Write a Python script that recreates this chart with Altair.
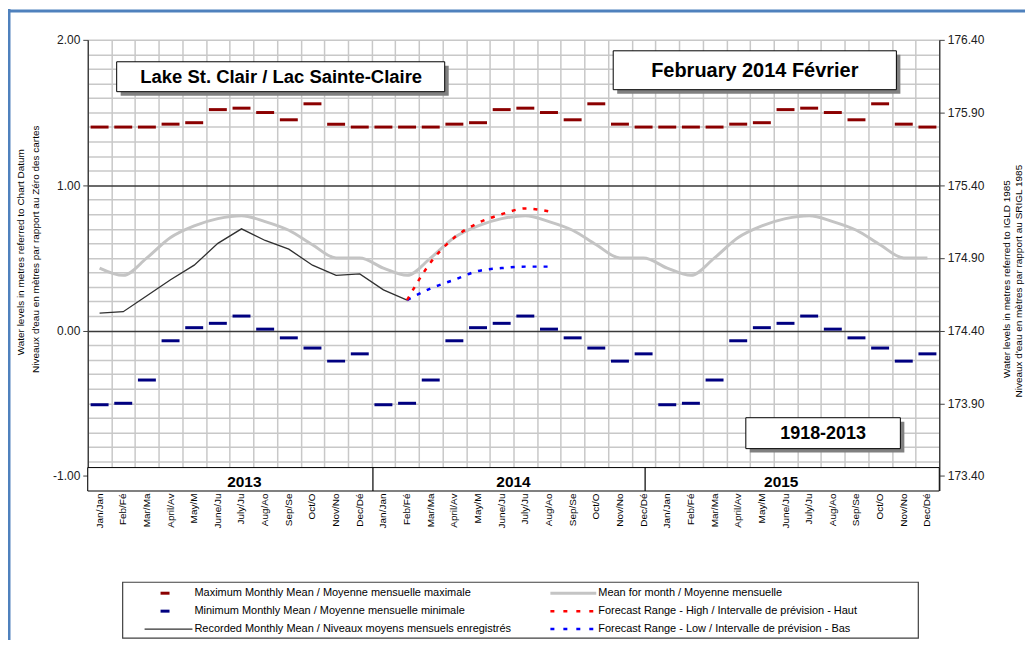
import altair as alt
import pandas as pd

# ---------------- data ----------------
years = [2013, 2014, 2015]
month_labels = ["Jan/Jan", "Feb/Fé", "Mar/Ma", "April/Av", "May/M", "June/Ju",
                "July/Ju", "Aug/Ao", "Sep/Se", "Oct/O", "Nov/No", "Dec/Dé"]
max_monthly = [1.40, 1.40, 1.40, 1.42, 1.43, 1.52, 1.53, 1.50, 1.45, 1.56, 1.42, 1.40]
min_monthly = [-0.51, -0.50, -0.34, -0.07, 0.02, 0.05, 0.10, 0.01, -0.05, -0.12, -0.21, -0.16]
mean_monthly = [0.43, 0.38, 0.50, 0.64, 0.72, 0.77, 0.79, 0.75, 0.69, 0.59, 0.50, 0.50]
# recorded monthly mean, Jan 2013 .. Feb 2014
recorded = [0.12, 0.13, 0.24, 0.35, 0.45, 0.60, 0.70, 0.62, 0.56, 0.45, 0.38, 0.39, 0.28, 0.21]
# forecast, Feb 2014 .. Aug 2014
forecast_start = 13
forecast_high = [0.21, 0.47, 0.64, 0.74, 0.80, 0.84, 0.82]
forecast_low = [0.21, 0.29, 0.35, 0.41, 0.43, 0.44, 0.44]
igld_offset = 174.40
right_ticks = [173.40, 173.90, 174.40, 174.90, 175.40, 175.90, 176.40]

title_lake = "Lake St. Clair / Lac Sainte-Claire"
title_month = "February 2014 Février"
period_label = "1918-2013"
left_title = ["Water levels in metres referred to Chart Datum",
              "Niveaux d'eau en mètres par rapport au Zéro des cartes"]
right_title = ["Water levels in metres referred to IGLD 1985",
               "Niveaux d'eau en mètres par rapport au SRIGL 1985"]
legend_left = ["Maximum Monthly Mean / Moyenne mensuelle maximale",
               "Minimum Monthly Mean / Moyenne mensuelle minimale",
               "Recorded Monthly Mean / Niveaux moyens mensuels enregistrés"]
legend_right = ["Mean for month / Moyenne mensuelle",
                "Forecast Range - High / Intervalle de prévision - Haut",
                "Forecast Range - Low / Intervalle de prévision - Bas"]

# ---------------- tables ----------------
n_months = len(years) * 12
clim = pd.DataFrame({
    "x": [i + 0.5 for i in range(n_months)],
    "label": month_labels * len(years),
    "max": max_monthly * len(years),
    "min": min_monthly * len(years),
    "mean": mean_monthly * len(years),
})
rec = pd.DataFrame({"x": [i + 0.5 for i in range(len(recorded))], "v": recorded})
fc = pd.DataFrame({"x": [forecast_start + i + 0.5 for i in range(len(forecast_high))],
                   "high": forecast_high, "low": forecast_low})
right_df = pd.DataFrame({"x": [0.0] * len(right_ticks), "v": right_ticks})

# ---------------- layout ----------------
FONT = "Liberation Sans"
PAD_L, PAD_T, PAD_R, PAD_B = 80, 31, 86, 149
W, H = 854, 452
Y_MIN, Y_MAX = -1.1, 2.0


def vx(px):
    return px - 8 - PAD_L


def vy(py):
    return py - 8 - PAD_T


DUMMY = alt.Data(values=[{"a": 1}])

xs = alt.Scale(domain=[0, n_months], nice=False, zero=False)
x_axis = alt.Axis(values=list(range(1, n_months)), grid=True, gridColor="#c8c8c8",
                  gridWidth=1.5, labels=False, ticks=False, domain=False, title=None)


def X(field):
    return alt.X(field, type="quantitative", scale=xs, axis=x_axis)


ys = alt.Scale(domain=[Y_MIN, Y_MAX], nice=False, zero=False)
grid_vals = [round(-1.0 + 0.1 * k, 1) for k in range(31)]
is_major = "abs(datum.value - round(datum.value)) < 0.001"
y_axis = alt.Axis(
    values=grid_vals, grid=True,
    gridColor={"condition": {"test": "abs(datum.value) < 0.001 || abs(datum.value - 1) < 0.001",
                             "value": "#3a3a3a"}, "value": "#c8c8c8"},
    gridWidth=1.5,
    labelExpr=f"{is_major} ? (datum.value < 0 ? '-' : '') + format(abs(datum.value), '.2f') : ''",
    tickOpacity={"condition": {"test": is_major, "value": 1}, "value": 0},
    tickSize=5, tickColor="#404040", domainColor="#404040", domainWidth=1.5,
    labelFont=FONT, labelFontSize=12, labelColor="#202020", labelPadding=3,
    labelOverlap=False, title=None)


def Y(field):
    return alt.Y(field, type="quantitative", scale=ys, axis=y_axis)


mean_line = alt.Chart(clim).mark_line(color="#c4c4c4", strokeWidth=3, interpolate="monotone").encode(
    x=X("x"), y=Y("mean"))
max_ticks = alt.Chart(clim).mark_tick(orient="horizontal", color="#8b0000", size=18, thickness=3,
                                      opacity=1).encode(x=X("x"), y=Y("max"))
min_ticks = alt.Chart(clim).mark_tick(orient="horizontal", color="#000080", size=18, thickness=3,
                                      opacity=1).encode(x=X("x"), y=Y("min"))
rec_line = alt.Chart(rec).mark_line(color="#303030", strokeWidth=1.3).encode(x=X("x"), y=Y("v"))
low_line = alt.Chart(fc).mark_line(color="#0000ff", strokeWidth=2.5, strokeDash=[4, 7],
                                   interpolate="monotone").encode(x=X("x"), y=Y("low"))
high_line = alt.Chart(fc).mark_line(color="#ff0000", strokeWidth=2.5, strokeDash=[4, 7],
                                    interpolate="monotone").encode(x=X("x"), y=Y("high"))
month_text = alt.Chart(clim).mark_text(angle=270, align="right", baseline="middle", fontSize=10,
                                       font=FONT, color="#000000").encode(
    x=X("x"), y=alt.value(vy(494)), text="label:N")

inner = alt.layer(mean_line, max_ticks, min_ticks, rec_line, low_line, high_line, month_text)

right_layer = alt.Chart(right_df).mark_point(opacity=0).encode(
    x=X("x"),
    y=alt.Y("v:Q", scale=alt.Scale(domain=[Y_MIN + igld_offset, Y_MAX + igld_offset], nice=False, zero=False),
            axis=alt.Axis(orient="right", values=right_ticks, format=".2f", grid=False, tickSize=5,
                          tickColor="#404040", domainColor="#404040", domainWidth=1.5,
                          labelFont=FONT, labelFontSize=12, labelColor="#202020", labelPadding=3,
                          labelOverlap=False, title=None)))


# ---------------- decorations ----------------
def rect(x1, y1, x2, y2, fill="white", stroke=None, sw=1):
    kw = {"fill": fill, "opacity": 1}
    if stroke:
        kw.update(stroke=stroke, strokeWidth=sw)
    return alt.Chart(DUMMY).mark_rect(**kw).encode(
        x=alt.value(vx(x1)), x2=alt.value(vx(x2)), y=alt.value(vy(y1)), y2=alt.value(vy(y2)))


def rule(x1, y1, x2, y2, color, sw=1, dash=None):
    kw = {"color": color, "strokeWidth": sw}
    if dash:
        kw["strokeDash"] = dash
    return alt.Chart(DUMMY).mark_rule(**kw).encode(
        x=alt.value(vx(x1)), x2=alt.value(vx(x2)), y=alt.value(vy(y1)), y2=alt.value(vy(y2)))


def text(t, x, y, size, bold=False, align="center", angle=0, baseline="middle"):
    kw = dict(text=t, fontSize=size, font=FONT, align=align, baseline=baseline, color="#000000")
    if bold:
        kw["fontWeight"] = "bold"
    if angle:
        kw["angle"] = angle
    return alt.Chart(DUMMY).mark_text(**kw).encode(x=alt.value(vx(x)), y=alt.value(vy(y)))


def shadow_box(x1, y1, x2, y2):
    return [rect(x1 + 4, y1 + 4, x2 + 4, y2 + 4, fill="#808080"),
            rect(x1, y1, x2, y2, fill="white", stroke="#000000", sw=1)]


decor = []
# year band
decor.append(rect(88, 468, 942, 491.5, fill="white", stroke="#000000", sw=1))
decor.append(rule(374, 468, 374, 491.5, "#000000", 1.2))
decor.append(rule(647, 468, 647, 491.5, "#000000", 1.2))
for yr, px in zip(years, [245, 515, 783.5]):
    decor.append(text(str(yr), px, 482, 15.5, bold=True))

# title boxes
decor += shadow_box(117, 61, 446, 91)
decor.append(text(title_lake, 282, 76.5, 18.5, bold=True))
decor += shadow_box(615, 50, 899, 89)
decor.append(text(title_month, 757, 70, 20, bold=True))
decor += shadow_box(748, 418, 903, 449)
decor.append(text(period_label, 825.5, 434, 18, bold=True))

# axis titles
decor.append(text(left_title[0], 21, 252, 10, angle=270))
decor.append(text(left_title[1], 36, 249, 10, angle=270))
decor.append(text(right_title[0], 1010, 279, 10, angle=270))
decor.append(text(right_title[1], 1022, 281, 10, angle=270))

# legend
decor.append(rect(123, 583, 921, 639, fill="white", stroke="#404040", sw=1.2))
rows = [594, 612, 630]
decor.append(rule(161, rows[0], 170, rows[0], "#8b0000", 3))
decor.append(rule(161, rows[1], 170, rows[1], "#000080", 3))
decor.append(rule(145, rows[2], 193, rows[2], "#303030", 1.3))
decor.append(rule(552, rows[0], 598, rows[0], "#c4c4c4", 3))
decor.append(rule(552, rows[1], 598, rows[1], "#ff0000", 2.5, [4, 9]))
decor.append(rule(552, rows[2], 598, rows[2], "#0000ff", 2.5, [4, 9]))
for t, r in zip(legend_left, rows):
    decor.append(text(t, 195, r, 11, align="left"))
for t, r in zip(legend_right, rows):
    decor.append(text(t, 600, r, 11, align="left"))

# blue frame
decor.append(rule(8, 10, 1030, 10, "#4f81bd", 3))
decor.append(rule(9, 8, 9, 660, "#4f81bd", 3))

chart = alt.layer(inner, right_layer, *decor).resolve_scale(y="independent").properties(
    width=W, height=H,
    padding={"left": PAD_L, "top": PAD_T, "right": PAD_R, "bottom": PAD_B},
    autosize=alt.AutoSizeParams(type="none"),
    background="white",
).configure_view(stroke=None)

chart.save("out.html", embed_options={"renderer": "svg", "actions": False})
